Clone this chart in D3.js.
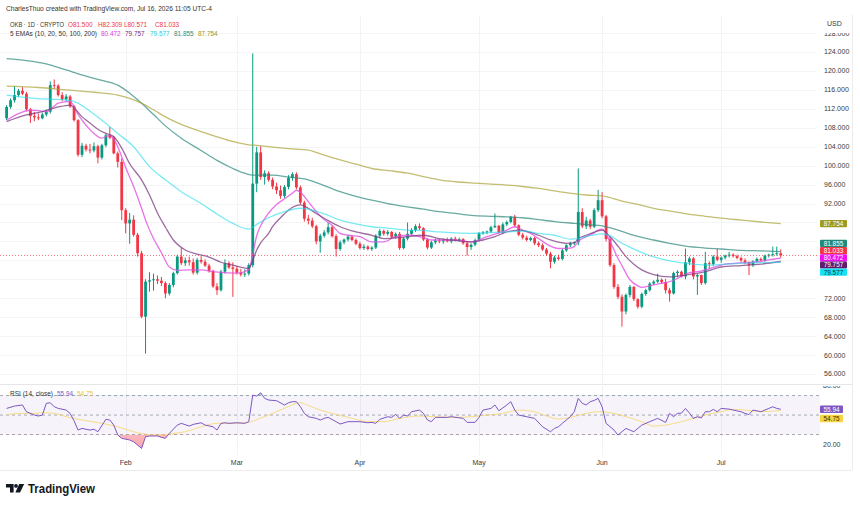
<!DOCTYPE html>
<html><head><meta charset="utf-8">
<script src="https://cdn.jsdelivr.net/npm/d3@7"></script>
<style>body{margin:0;background:#fff}svg{display:block;font-family:"Liberation Sans",Arial,sans-serif}</style>
</head><body>
<svg id="c" width="860" height="505"></svg>
<script>
// ---------- DATA ----------
const startDate = "2026-01-02";
const opens = [110.0,112.4,113.8,114.9,115.8,115.2,111.9,110.5,110.2,110.0,
110.8,111.4,117.0,116.9,114.9,114.0,114.6,112.5,109.6,102.3,
104.2,103.4,103.2,104.1,101.7,104.3,106.4,105.9,102.6,100.8,
90.6,87.8,88.6,85.4,81.5,68.1,75.5,75.8,76.0,75.7,
75.2,73.0,74.8,77.3,80.8,79.4,80.0,79.6,77.4,80.1,
79.7,78.9,77.8,74.5,73.7,77.6,79.4,78.5,78.2,77.4,
77.0,77.2,79.0,96.2,102.8,97.6,98.4,97.0,95.6,94.8,
93.6,95.5,97.4,98.2,95.4,92.2,88.8,88.4,87.2,84.0,
85.2,85.9,87.0,85.1,82.4,83.8,84.4,85.0,84.3,83.5,
82.6,82.9,82.4,82.7,85.2,86.2,85.6,86.0,84.9,85.6,
82.6,84.6,85.6,86.4,87.2,86.8,84.4,82.7,83.8,84.2,
84.0,84.3,84.0,84.6,84.3,84.5,83.6,82.8,83.3,84.3,
85.7,85.9,86.1,87.0,87.3,85.9,87.6,88.1,89.2,87.4,
85.4,84.8,84.3,84.7,83.6,83.2,82.3,81.4,79.7,80.6,
80.3,82.1,83.2,83.6,83.8,90.2,87.2,88.4,87.1,90.6,
92.7,89.3,84.5,79.0,74.4,72.3,69.2,72.7,74.4,71.8,
70.2,72.9,73.7,75.1,75.5,75.9,75.4,73.7,73.0,77.3,
77.6,76.6,79.6,80.4,76.6,76.9,75.2,79.4,79.2,80.8,
80.1,80.6,81.0,81.2,80.9,80.5,80.0,79.5,79.0,79.8,
80.3,80.0,81.0,81.2,81.3,81.5];
const highs = [112.8,114.2,116.8,116.2,116.6,115.6,112.2,111.3,111.0,111.2,
111.8,117.8,118.2,117.2,115.5,115.1,114.9,112.8,109.8,104.8,
104.6,104.6,104.9,104.4,104.6,106.8,108.2,106.3,103.0,101.5,
91.0,90.0,89.5,85.8,82.0,76.0,77.5,77.2,76.8,76.5,
75.6,75.2,77.6,81.2,82.6,80.6,80.8,80.4,80.5,80.9,
80.2,79.3,78.0,75.2,78.0,80.2,79.8,79.6,78.8,78.2,
78.1,79.4,123.7,104.0,104.1,99.0,98.8,97.5,96.4,95.8,
95.9,98.0,98.6,98.6,95.8,92.6,89.6,89.0,87.5,85.6,
86.4,88.0,87.4,85.5,84.2,84.6,85.4,85.3,84.6,83.9,
83.4,83.2,83.0,85.5,86.6,86.5,86.4,86.2,85.9,86.0,
84.9,88.0,86.8,87.6,87.8,87.0,84.7,84.1,84.6,84.5,
84.6,84.8,84.9,85.0,84.8,84.7,84.0,83.6,84.6,86.0,
86.2,86.3,87.3,89.9,87.5,88.0,88.4,89.4,89.6,87.6,
85.8,85.2,85.0,85.0,84.0,83.6,82.6,81.8,81.0,81.2,
82.4,83.4,83.9,84.0,99.4,91.0,89.2,88.8,91.0,94.9,
94.4,89.6,85.0,79.4,75.0,72.8,73.0,74.8,74.6,72.0,
73.2,74.0,75.4,75.8,77.2,76.2,76.1,74.2,77.6,77.9,
77.8,82.5,80.8,80.7,77.2,77.0,81.8,79.8,81.1,82.5,
80.8,81.2,81.8,81.5,81.2,80.8,80.4,79.8,80.0,80.6,
80.6,81.2,81.4,82.9,82.9,82.309];
const lows = [109.6,112.0,113.3,114.5,114.9,111.5,109.0,109.4,109.6,109.8,
110.4,111.0,116.2,114.6,113.6,113.5,112.2,109.3,101.9,101.8,
103.0,102.6,102.8,100.5,101.3,103.9,105.6,102.4,99.6,88.5,
85.7,83.5,85.0,80.8,67.8,60.3,73.4,73.6,75.0,74.6,
72.0,72.6,74.3,77.0,79.0,78.8,78.9,77.0,77.0,79.3,
78.6,77.4,74.2,72.7,73.4,77.2,78.2,72.3,77.0,76.6,
76.5,76.8,78.5,94.4,97.0,96.0,96.6,95.0,94.0,93.0,
93.2,95.0,96.8,95.0,91.8,88.2,87.6,86.8,83.4,81.6,
84.8,85.5,84.8,80.8,82.0,83.4,84.0,84.0,83.2,82.3,
82.2,82.1,82.0,82.4,84.8,85.2,85.2,84.6,84.6,82.2,
82.3,84.2,85.3,86.0,86.4,84.1,82.3,82.4,83.4,83.6,
83.5,83.8,83.6,84.0,83.9,83.3,81.0,82.2,83.0,84.0,
85.4,85.5,85.8,86.8,85.6,85.6,87.2,87.8,87.0,85.1,
84.4,84.0,84.0,83.2,82.8,82.0,81.0,78.3,79.3,80.0,
80.0,81.8,82.8,83.2,83.2,86.8,86.6,86.6,86.8,90.2,
88.9,84.0,78.6,74.0,71.8,66.0,68.6,72.2,71.4,69.8,
69.9,72.5,73.4,74.8,75.2,75.0,73.0,71.3,72.8,76.4,
76.4,76.0,79.0,76.0,72.7,74.8,74.9,78.2,78.8,79.8,
79.5,80.2,80.6,80.6,80.2,79.6,79.2,76.9,78.6,79.4,
79.8,79.7,80.6,80.8,81.0,80.571];
const closes = [112.4,113.8,114.9,115.8,115.2,111.9,110.5,110.2,110.0,110.8,
111.4,117.0,116.9,114.9,114.0,114.6,112.5,109.6,102.3,104.2,
103.4,103.2,104.1,101.7,104.3,106.4,105.9,102.6,100.8,90.6,
87.8,88.6,85.4,81.5,68.1,75.5,75.8,76.0,75.7,75.2,
73.0,74.8,77.3,80.8,79.4,80.0,79.6,77.4,80.1,79.7,
78.9,77.8,74.5,73.7,77.6,79.4,78.5,78.2,77.4,77.0,
77.2,79.0,96.2,102.8,97.6,98.4,97.0,95.6,94.8,93.6,
95.5,97.4,98.2,95.4,92.2,88.8,88.4,87.2,84.0,85.2,
85.9,87.0,85.1,82.4,83.8,84.4,85.0,84.3,83.5,82.6,
82.9,82.4,82.7,85.2,86.2,85.6,86.0,84.9,85.6,82.6,
84.6,85.6,86.4,87.2,86.8,84.4,82.7,83.8,84.2,84.0,
84.3,84.0,84.6,84.3,84.5,83.6,82.8,83.3,84.3,85.7,
85.9,86.1,87.0,87.3,85.9,87.6,88.1,89.2,87.4,85.4,
84.8,84.3,84.7,83.6,83.2,82.3,81.4,79.7,80.6,80.3,
82.1,83.2,83.6,83.8,90.2,87.2,88.4,87.1,90.6,92.7,
89.3,84.5,79.0,74.4,72.3,69.2,72.7,74.4,71.8,70.2,
72.9,73.7,75.1,75.5,75.9,75.4,73.7,73.0,77.3,77.6,
76.6,79.6,80.4,76.6,76.9,75.2,79.4,79.2,80.8,80.1,
80.6,81.0,81.2,80.9,80.5,80.0,79.5,79.0,79.8,80.3,
80.0,81.0,81.2,81.3,81.5,81.033];

// EMA lines (day index from startDate -> value)
const ema10Days = [0,3,6,8,10,12,13,16,18,19,22,24,26,27,28,29,30,32,34,35,37,39,41,43,46,49,52,55,58,61,62,63,64,66,68,70,72,73,74,76,78,80,82,84,86,89,92,95,98,102,105,107,113,117,121,126,128,130,132,134,137,139,142,143,144,146,148,149,150,152,154,155,157,159,160,162,164,166,168,170,172,174,176,178,180,182,184,186,188,190,192,194,195];
const ema10 = [109.6,111.0,111.7,111.6,111.4,112.6,113.2,113.5,110.8,109.6,106.8,105.8,106.4,105.6,104.0,101.9,99.6,95.6,91.0,88.5,84.6,81.6,78.6,77.9,78.0,78.0,77.6,77.4,77.3,78.0,81.3,85.2,87.3,90.0,91.8,93.0,94.2,94.8,94.4,92.4,90.3,88.6,87.4,85.7,85.3,85.0,83.9,83.9,85.0,85.3,84.8,84.3,84.3,83.9,85.0,86.4,87.1,86.4,85.7,84.6,83.0,82.5,82.6,82.9,84.0,85.0,85.8,86.4,86.6,84.0,80.4,78.9,75.9,74.6,74.3,74.6,75.0,75.3,75.8,76.6,77.4,77.6,78.0,78.5,79.0,79.3,79.4,79.5,79.6,79.8,80.1,80.35,80.472];
const ema20Days = [0,5,9,13,16,19,21,23,25,27,29,31,34,36,38,40,42,45,48,51,54,57,61,62,63,64,66,67,69,71,74,76,78,81,84,88,92,95,100,105,109,113,117,120,123,126,129,132,134,137,141,143,144,146,149,150,152,154,156,158,160,163,167,171,176,180,185,190,195];
const ema20 = [109.3,110.7,111.4,112.4,112.8,110.3,109.0,107.7,106.8,106.1,103.7,100.4,97.0,93.8,90.0,87.0,84.3,82.2,81.3,80.7,79.6,79.0,78.3,80.0,82.2,83.7,85.7,87.1,89.0,90.6,91.7,91.0,89.9,88.4,87.1,86.0,85.3,84.6,84.9,85.3,84.6,84.2,83.9,84.3,85.0,86.0,86.4,85.9,85.3,84.3,83.6,83.7,84.6,85.3,86.2,86.4,85.0,83.0,80.8,79.2,78.0,77.0,76.5,76.9,77.6,78.6,78.9,79.2,79.757];
const ema50Days = [0,7,15,18,21,24,28,32,36,40,44,49,53,57,61,62,63,66,70,74,77,80,84,88,92,96,101,105,109,113,117,121,126,130,134,138,142,144,147,150,152,155,158,162,167,171,176,181,186,190,195];
const ema50 = [114.9,114.2,113.9,113.2,111.5,109.6,106.8,104.0,99.8,97.0,94.5,92.0,89.8,87.8,86.6,87.0,87.6,89.0,90.3,91.0,90.6,89.8,88.5,87.7,87.1,86.8,86.4,86.3,86.0,85.8,85.7,85.8,86.0,86.2,85.7,85.3,84.5,84.6,85.2,85.6,85.2,83.6,82.4,81.0,79.9,79.4,79.0,79.2,79.4,79.5,79.577];
const ema100Days = [0,5,10,15,20,24,28,31,34,37,40,44,49,53,57,60,62,64,67,71,76,80,84,88,92,96,101,105,109,113,117,122,126,130,134,138,143,147,150,154,158,163,167,171,176,180,185,190,195];
const ema100 = [122.6,122.2,121.5,120.2,118.9,118.0,117.0,115.3,113.2,110.8,108.4,105.8,103.2,101.1,99.4,98.4,98.0,98.0,98.0,97.6,97.0,95.8,94.5,93.5,92.7,92.0,91.3,90.8,90.3,89.9,89.5,89.3,89.2,89.0,88.6,88.2,87.8,87.5,87.3,86.4,85.3,84.3,83.6,83.0,82.6,82.4,82.1,82.0,81.855];
const ema200Days = [0,8,15,22,28,31,34,37,40,44,49,53,57,61,63,66,71,76,80,84,88,92,97,101,105,109,113,118,122,126,130,134,140,146,150,155,160,163,168,172,176,180,185,190,195];
const ema200 = [116.8,116.5,116.0,115.5,114.9,114.2,113.2,111.8,110.3,108.7,107.2,106.1,105.1,104.4,104.3,104.0,103.6,103.3,102.2,101.2,100.3,99.4,98.9,98.4,97.7,97.0,96.6,96.3,96.1,95.9,95.6,95.2,94.4,93.8,93.6,92.5,91.6,91.0,90.3,89.7,89.3,88.9,88.5,88.1,87.754];

// RSI (14, close) and its moving average
const rsiDays = [0,2,4,5,7,8,9,10,11,12,13,15,16,17,18,19,21,22,23,25,26,27,28,29,31,32,34,35,36,38,39,40,41,43,44,46,47,49,50,52,53,54,55,56,58,60,61,62,63,64,65,66,68,70,71,72,73,74,75,76,78,79,80,81,83,84,86,87,89,91,92,93,94,96,97,98,99,100,101,102,104,105,106,107,108,111,112,115,116,118,119,120,122,123,124,126,127,128,129,131,133,135,137,138,139,140,142,143,144,145,146,147,148,149,150,151,153,154,156,157,158,160,162,163,164,166,167,168,169,170,171,172,173,174,175,176,177,178,179,180,182,183,185,186,187,188,189,190,191,192,193,194,195];
const rsi = [56.8,59.2,60.3,53.4,50,49,50,62,62.6,58.5,56.8,55.1,51.7,44,34.6,36.3,34.6,35.5,32.9,45.6,44.9,39.7,29.5,26.1,24.4,22.6,15.8,27.8,28.5,28.5,27.1,26.1,31.2,39.7,41.5,38.7,40.4,42.1,39.7,38,34.6,41.5,42.1,41.5,42.1,41.5,43.2,70.5,69.5,72.9,67.1,65.4,64.7,60.3,62.6,63.7,63.7,58.5,51.7,48.3,46.6,44.9,46.6,47.6,43.2,40.8,43.2,43.2,43.2,42.1,42.5,41.5,45.6,48.3,47.6,50.7,46.6,50,49,53.4,55.1,51.7,45,43.2,47.6,47.6,48.3,46.6,42.5,42.5,47.6,55.1,56.8,60.3,54.4,60.3,63.7,55.1,50,48.3,46.6,38,32.9,36.3,38,41.5,48.3,53.4,67.1,62,60.3,63.7,65,67.1,58.5,41.5,34.6,29.5,36.3,34.6,32.9,39.7,43.2,44.9,46.6,42.5,51.7,48.3,51.7,52,56.8,52,46.6,48.3,47,53.4,53.4,55.8,53.4,56.8,56.1,55.1,53.4,51.7,50.5,55.1,54.4,53.4,55.1,56.8,58.5,56.8,55.94];
const rsiMaDays = [0,3,7,9,12,15,19,24,28,32,34,38,40,42,45,49,53,57,61,64,66,70,74,76,79,82,87,91,95,99,104,108,113,117,121,125,129,133,136,139,142,146,149,153,156,160,163,166,170,173,176,180,183,186,190,195];
const rsiMa = [50,51.7,51.7,52.4,51.7,48.3,44.9,41.5,38,32.9,31,29.5,29.8,31,32.9,38,41.5,41.5,42.5,47,50,57,62.6,59.8,55.1,51.7,46.6,43.2,43.2,46.6,49,48.3,47.6,48.3,50,51.7,55.1,53.4,49,46,47.5,51.7,53.4,51.7,48.3,43.2,38.7,39.7,43.2,46.6,50,53.4,55.8,55.1,53.5,54.75];

// ticks and legend values
const priceTicks = [128,124,120,116,112,108,104,100,96,92,88,84,80,76,72,68,64,60,56,52];
const rsiTicks = [80,60,40,20];
const rsiLevels = [70,50,30];
const monthTicks = ["2026-02-01","2026-03-01","2026-04-01","2026-05-01","2026-06-01","2026-07-01"];
const ohlcLabels = ["O","H","L","C"];
const ohlcValues = [81.500,82.309,80.571,81.033];
const emaLast = [80.472,79.757,79.577,81.855,87.754];
const rsiLast = [55.94,54.75];

// ---------- STYLE ----------
const UP="#089981", DOWN="#f23645";
const emaLine = ["#e24fe2","#7d3a80","#1fdcec","#2f8a7e","#a9a335"];
const emaOpacity = [0.8,0.75,0.6,0.72,0.7];
const emaBox = ["#f20cf2","#5e1e6e","#19e3f2","#1f8a7b","#9e9b24"];
const emaBoxText = ["#fff","#fff","#12343c","#fff","#fff"];
const emaLegendCol = ["#e03ce0","#7b2f80","#22cfe0","#2b8a7e","#9a9622"];

const svg = d3.select("#c");
const paneR = 817, mainTop = 15, mainBot = 384, rsiTop = 384, rsiBot = 455;

const parse = d3.utcParse("%Y-%m-%d");
const t0 = parse(startDate);
const n = closes.length;
const day = i => d3.utcDay.offset(t0, i);
const x = d3.scaleUtc().domain([t0, day(195)]).range([6.6, 780.75]);
const y = d3.scaleLinear().domain([56,124]).range([374,52]);
const yR = d3.scaleLinear().domain([20,80]).range([444.3,385.8]);

const defs = svg.append("defs");
defs.append("clipPath").attr("id","mainClip").append("rect").attr("x",0).attr("y",mainTop).attr("width",paneR).attr("height",mainBot-mainTop);
defs.append("clipPath").attr("id","rsiClip").append("rect").attr("x",0).attr("y",rsiTop).attr("width",paneR+4).attr("height",rsiBot-rsiTop);
defs.append("clipPath").attr("id","below30").append("rect").attr("x",0).attr("y",yR(30)).attr("width",paneR).attr("height",rsiBot-yR(30));
defs.append("clipPath").attr("id","above70").append("rect").attr("x",0).attr("y",rsiTop).attr("width",paneR).attr("height",yR(70)-rsiTop);
defs.append("clipPath").attr("id","axisClip").append("rect").attr("x",818).attr("y",33).attr("width",42).attr("height",mainBot-33);
defs.append("clipPath").attr("id","rsiAxisClip").append("rect").attr("x",818).attr("y",rsiTop+2).attr("width",42).attr("height",rsiBot-rsiTop-2);
const g1 = defs.append("linearGradient").attr("id","pinkG").attr("x1",0).attr("x2",0).attr("y1",0).attr("y2",1);
g1.append("stop").attr("offset","0%").attr("stop-color",DOWN).attr("stop-opacity",0.05);
g1.append("stop").attr("offset","100%").attr("stop-color",DOWN).attr("stop-opacity",0.45);
const g2 = defs.append("linearGradient").attr("id","greenG").attr("x1",0).attr("x2",0).attr("y1",0).attr("y2",1);
g2.append("stop").attr("offset","0%").attr("stop-color",UP).attr("stop-opacity",0.35);
g2.append("stop").attr("offset","100%").attr("stop-color",UP).attr("stop-opacity",0.05);

// frame
svg.append("line").attr("x1",852.5).attr("x2",852.5).attr("y1",15).attr("y2",470).attr("stroke","#ececec");
svg.append("line").attr("x1",0).attr("x2",852).attr("y1",470.5).attr("y2",470.5).attr("stroke","#ececec");
svg.append("line").attr("x1",0).attr("x2",852).attr("y1",rsiTop+0.5).attr("y2",rsiTop+0.5).attr("stroke","#e6e6ea");

// grid
const grid = svg.append("g");
grid.append("g").attr("clip-path","url(#mainClip)").selectAll("line").data(priceTicks).join("line")
  .attr("x1",0).attr("x2",paneR).attr("y1",d=>Math.round(y(d))+0.5).attr("y2",d=>Math.round(y(d))+0.5)
  .attr("stroke","#f3f4f6");
grid.selectAll("line.v").data(monthTicks).join("line").attr("class","v")
  .attr("x1",d=>Math.round(x(parse(d)))+0.5).attr("x2",d=>Math.round(x(parse(d)))+0.5)
  .attr("y1",mainTop).attr("y2",rsiBot).attr("stroke","#f2f3f5");

// ---------- MAIN PANE ----------
const main = svg.append("g").attr("clip-path","url(#mainClip)");
const idx = d3.range(n);
const bw = 2.8;
main.append("g").selectAll("line").data(idx).join("line")
  .attr("x1",i=>x(day(i))).attr("x2",i=>x(day(i)))
  .attr("y1",i=>y(highs[i])).attr("y2",i=>y(lows[i]))
  .attr("stroke",i=>closes[i]>=opens[i]?UP:DOWN).attr("stroke-width",1);
main.append("g").selectAll("rect").data(idx).join("rect")
  .attr("x",i=>x(day(i))-bw/2).attr("width",bw)
  .attr("y",i=>y(Math.max(opens[i],closes[i])))
  .attr("height",i=>Math.max(0.8,Math.abs(y(opens[i])-y(closes[i]))))
  .attr("fill",i=>closes[i]>=opens[i]?UP:DOWN);

const emaSets = [[ema10Days,ema10],[ema20Days,ema20],[ema50Days,ema50],[ema100Days,ema100],[ema200Days,ema200]];
const lineGen = d3.line().x(d=>x(day(d[0]))).y(d=>y(d[1])).curve(d3.curveMonotoneX);
emaSets.forEach((s,k)=>{
  const pts = s[0].map((d,j)=>[d,s[1][j]]);
  main.append("path").datum(pts).attr("d",lineGen).attr("fill","none")
    .attr("stroke",emaLine[k]).attr("stroke-opacity",emaOpacity[k]).attr("stroke-width",1.3);
});

// current price dotted line
svg.append("line").attr("x1",0).attr("x2",819).attr("y1",y(ohlcValues[3])).attr("y2",y(ohlcValues[3]))
  .attr("stroke",DOWN).attr("stroke-opacity",0.7).attr("stroke-dasharray","1,2");

// ---------- RSI PANE ----------
const rp = svg.append("g").attr("clip-path","url(#rsiClip)");
rp.append("rect").attr("x",0).attr("width",paneR+3).attr("y",yR(70)).attr("height",yR(30)-yR(70))
  .attr("fill","#7e57c2").attr("fill-opacity",0.07);
rp.selectAll("line.lvl").data(rsiLevels).join("line").attr("class","lvl")
  .attr("x1",0).attr("x2",paneR+3).attr("y1",d=>yR(d)).attr("y2",d=>yR(d))
  .attr("stroke","#9aa0ad").attr("stroke-dasharray","3,3").attr("stroke-width",0.9);
const rsiPts = rsiDays.map((d,j)=>[d,rsi[j]]);
rp.append("path").datum(rsiPts).attr("clip-path","url(#below30)")
  .attr("d",d3.area().x(d=>x(day(d[0]))).y0(yR(30)).y1(d=>yR(d[1])))
  .attr("fill","url(#pinkG)");
rp.append("path").datum(rsiPts).attr("clip-path","url(#above70)")
  .attr("d",d3.area().x(d=>x(day(d[0]))).y0(yR(70)).y1(d=>yR(d[1])))
  .attr("fill","url(#greenG)");
const maPts = rsiMaDays.map((d,j)=>[d,rsiMa[j]]);
rp.append("path").datum(maPts).attr("d",d3.line().x(d=>x(day(d[0]))).y(d=>yR(d[1])).curve(d3.curveMonotoneX))
  .attr("fill","none").attr("stroke","#f7d154").attr("stroke-opacity",0.7).attr("stroke-width",1);
rp.append("path").datum(rsiPts).attr("d",d3.line().x(d=>x(day(d[0]))).y(d=>yR(d[1])))
  .attr("fill","none").attr("stroke","#7e57c2").attr("stroke-width",1);

// ---------- AXES ----------
const fs = 7;
function layoutCentered(items, gap){
  items.sort((a,b)=>a.y-b.y);
  let groups = items.map(it=>({items:[it]}));
  const center = g => d3.mean(g.items, d=>d.y);
  let changed = true;
  while(changed){
    changed=false;
    for(let k=0;k<groups.length-1;k++){
      const a=groups[k], b=groups[k+1];
      const aB = center(a)+(a.items.length-1)*gap/2, bT = center(b)-(b.items.length-1)*gap/2;
      if(bT-aB<gap){ groups.splice(k,2,{items:a.items.concat(b.items)}); changed=true; break; }
    }
  }
  groups.forEach(g=>{const c=center(g), m=g.items.length; g.items.forEach((it,j)=>it.ly=c+(j-(m-1)/2)*gap);});
  return items;
}
function layoutDown(items, gap){
  items.sort((a,b)=>a.y-b.y);
  items.forEach((it,j)=>{ it.ly = j===0? it.y : Math.max(it.y, items[j-1].ly+gap); });
  return items;
}
const priceBoxes = layoutCentered([
  {v:emaLast[4],fill:emaBox[4],tc:emaBoxText[4]},
  {v:emaLast[3],fill:emaBox[3],tc:emaBoxText[3]},
  {v:ohlcValues[3],fill:DOWN,tc:"#fff"},
  {v:emaLast[0],fill:emaBox[0],tc:emaBoxText[0]},
  {v:emaLast[1],fill:emaBox[1],tc:emaBoxText[1]},
  {v:emaLast[2],fill:emaBox[2],tc:emaBoxText[2]}
].map(d=>({...d,y:y(d.v)})), 7.2);

// tick labels that would sit under a value box are not drawn (as on the reference)
const clearOf = (ty, boxes, h) => !boxes.some(b=>Math.abs(b.ly-ty)<h);
const ax = svg.append("g").attr("clip-path","url(#axisClip)").attr("font-size",fs).attr("fill","#3a3a3a");
ax.selectAll("text").data(priceTicks.filter(p=>clearOf(y(p),priceBoxes,7.4))).join("text")
  .attr("x",824).attr("y",d=>y(d)).attr("dy","0.35em").text(d=>d3.format(".3f")(d));
svg.append("text").attr("x",827).attr("y",25.5).attr("font-size",fs).attr("fill","#3a3a3a").text("USD");

const pb = svg.append("g").selectAll("g").data(priceBoxes).join("g");
pb.append("rect").attr("x",820).attr("width",27).attr("y",d=>d.ly-3.6).attr("height",7.2).attr("rx",1).attr("fill",d=>d.fill);
pb.append("text").attr("x",833.5).attr("y",d=>d.ly).attr("dy","0.36em").attr("text-anchor","middle")
  .attr("font-size",6.4).attr("fill",d=>d.tc).text(d=>d3.format(".3f")(d.v));

const rsiBoxes = layoutDown([{v:rsiLast[0],fill:"#7e57c2",tc:"#fff"},{v:rsiLast[1],fill:"#f5d443",tc:"#3a3000"}].map(d=>({...d,y:yR(d.v)})), 9.2);
const rax = svg.append("g").attr("clip-path","url(#rsiAxisClip)").attr("font-size",fs).attr("fill","#3a3a3a");
rax.selectAll("text").data(rsiTicks.filter(v=>clearOf(yR(v),rsiBoxes,7.6))).join("text")
  .attr("x",823).attr("y",d=>yR(d)).attr("dy","0.35em").text(d=>d3.format(".2f")(d));
const rb = svg.append("g").selectAll("g").data(rsiBoxes).join("g");
rb.append("rect").attr("x",820).attr("width",23).attr("y",d=>d.ly-3.7).attr("height",7.4).attr("rx",1).attr("fill",d=>d.fill);
rb.append("text").attr("x",831.5).attr("y",d=>d.ly).attr("dy","0.36em").attr("text-anchor","middle")
  .attr("font-size",6.4).attr("fill",d=>d.tc).text(d=>d3.format(".2f")(d.v));

// time axis
const fmtM = d3.utcFormat("%b");
svg.append("g").selectAll("text").data(monthTicks).join("text")
  .attr("x",d=>x(parse(d))).attr("y",463).attr("dy","0.35em").attr("text-anchor","middle")
  .attr("font-size",fs).attr("fill","#3a3a3a").text(d=>fmtM(parse(d)));

// ---------- LEGENDS ----------
const lf = 6.4;
svg.append("text").attr("x",6).attr("y",10.5).attr("font-size",6.6).attr("fill","#333")
  .attr("textLength",206).attr("lengthAdjust","spacingAndGlyphs")
  .text("CharlesThuo created with TradingView.com, Jul 16, 2026 11:05 UTC-4");
svg.append("text").attr("x",10).attr("y",26.5).attr("font-size",lf).attr("fill","#333")
  .attr("textLength",54).attr("lengthAdjust","spacingAndGlyphs").text("OKB · 1D · CRYPTO");
const ohlcX = [68,98,124,155];
ohlcLabels.forEach((lab,k)=>{
  svg.append("text").attr("x",ohlcX[k]).attr("y",26.5).attr("font-size",lf).attr("fill",DOWN)
    .text(lab+d3.format(".3f")(ohlcValues[k]));
});
svg.append("text").attr("x",10).attr("y",36).attr("font-size",lf).attr("fill","#333")
  .attr("textLength",87).attr("lengthAdjust","spacingAndGlyphs").text("5 EMAs (10, 20, 50, 100, 200)");
const emaX = [101,125,150,174,198];
emaLast.forEach((v,k)=>{
  svg.append("text").attr("x",emaX[k]).attr("y",36).attr("font-size",lf).attr("fill",emaLegendCol[k]).text(d3.format(".3f")(v));
});
svg.append("text").attr("x",10).attr("y",396).attr("font-size",lf).attr("fill","#333")
  .attr("textLength",43).attr("lengthAdjust","spacingAndGlyphs").text("RSI (14, close)");
svg.append("text").attr("x",57).attr("y",396).attr("font-size",lf).attr("fill","#7e57c2").text(d3.format(".2f")(rsiLast[0]));
svg.append("text").attr("x",77).attr("y",396).attr("font-size",lf).attr("fill","#e8c23a").text(d3.format(".2f")(rsiLast[1]));

// ---------- LOGO ----------
const logo = svg.append("g").attr("fill","#131722");
logo.append("path").attr("d","M6,484 h7.6 v8.4 h-3.6 v-4.8 h-4 z");
logo.append("circle").attr("cx",16).attr("cy",485.9).attr("r",1.9);
logo.append("path").attr("d","M19.2,484 h5 l-4.2,8.4 h-4.6 z");
svg.append("text").attr("x",28).attr("y",492.6).attr("font-size",12).attr("font-weight",700)
  .attr("fill","#131722").attr("textLength",67).attr("lengthAdjust","spacingAndGlyphs").text("TradingView");
</script>
</body></html>
